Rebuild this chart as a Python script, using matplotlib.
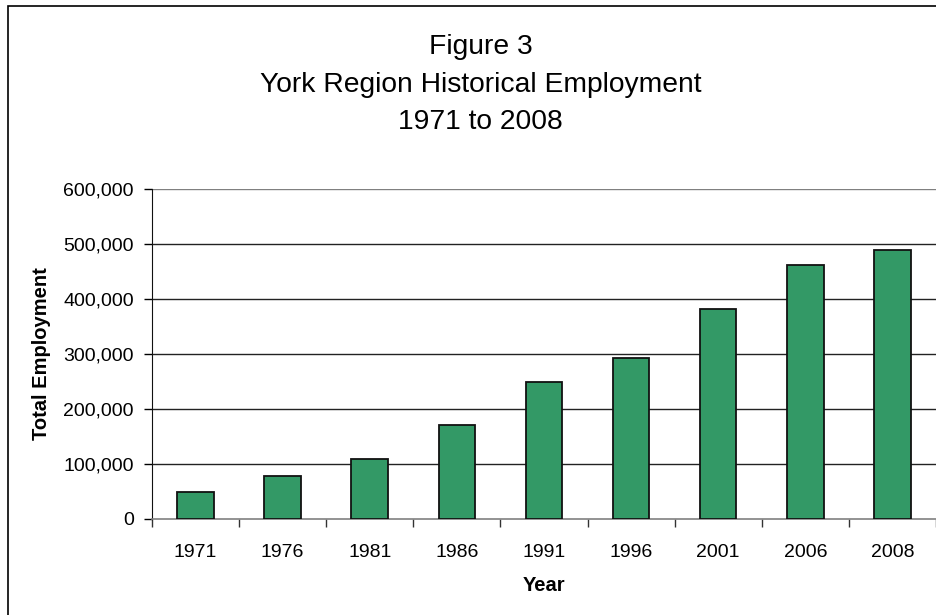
import numpy as np
import matplotlib.pyplot as plt
from matplotlib.patches import Rectangle
from matplotlib.ticker import FuncFormatter, FixedLocator

plt.rcParams['font.family'] = ['Liberation Sans', 'DejaVu Sans']

years = ['1971', '1976', '1981', '1986', '1991', '1996', '2001', '2006', '2008']
employment = [48000, 77000, 108000, 171000, 248000, 293000, 381000, 461000, 489000]
y_ticks = [0, 100000, 200000, 300000, 400000, 500000, 600000]

fig = plt.figure(figsize=(9.37, 6.15), dpi=100)

# chart border (runs off the right/bottom of the picture like the original)
fig.patches.append(Rectangle((0.0085, -0.1), 1.2, 1.09, transform=fig.transFigure,
                             fill=False, edgecolor='black', linewidth=1.2))

ax = fig.add_axes([0.1622, 0.1566, 0.8367, 0.5361])
x = np.arange(len(years))
ax.bar(x, employment, width=0.42, color='#339966', edgecolor='#111111', linewidth=1.3, zorder=3)

ax.set_ylim(0, 600000)
ax.set_xlim(-0.5, len(years) - 0.5)
ax.set_yticks(y_ticks)
ax.yaxis.set_major_formatter(FuncFormatter(lambda v, p: f'{int(v):,}'))
for v in y_ticks[1:]:
    ax.axhline(v, color='#222222' if v < 600000 else '#808080', linewidth=1.0, zorder=1)

ax.set_xticks(x)
ax.set_xticklabels(years)
ax.xaxis.set_minor_locator(FixedLocator(np.arange(-0.5, len(years), 1.0)))
ax.tick_params(axis='x', which='major', length=0, pad=18, labelsize=14)
ax.tick_params(axis='x', which='minor', length=6, width=1, color='#333333', direction='out')
ax.tick_params(axis='y', length=6, width=1, direction='out', pad=7, labelsize=14)

for s in ['top', 'right']:
    ax.spines[s].set_visible(False)
ax.spines['left'].set_color('#111111')
ax.spines['bottom'].set_color('#808080')
ax.spines['bottom'].set_linewidth(1.2)

ax.set_xlabel('Year', fontsize=14.5, fontweight='bold', labelpad=11)
ax.set_ylabel('Total Employment', fontsize=14.5, fontweight='bold', labelpad=9)

fig.text(0.513, 0.8626, 'Figure 3\nYork Region Historical Employment\n1971 to 2008',
         ha='center', va='center', fontsize=20.3, linespacing=1.56)

fig.savefig('out.png', dpi=100)
